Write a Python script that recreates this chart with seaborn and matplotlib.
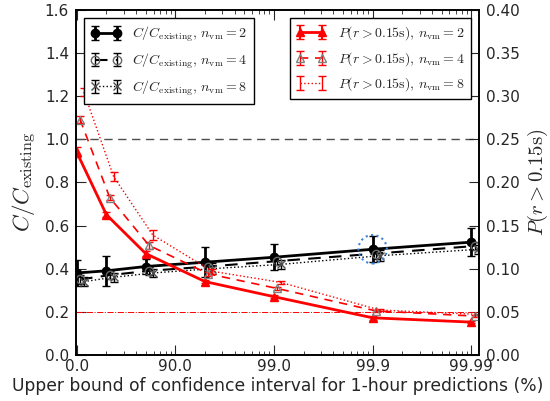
import numpy as np
import matplotlib
matplotlib.use('Agg')
import matplotlib.pyplot as plt
import seaborn as sns

# x 数据：1/(1-p)，对数坐标
x_vals = [1, 2, 5, 20, 100, 1000, 10000]
x_ticks = [1, 10, 100, 1000, 10000]
x_ticklabels = ['0.0', '90.0', '99.0', '99.9', '99.99']

# C/C_existing
cost_n2 = [0.38, 0.39, 0.41, 0.43, 0.453, 0.49, 0.523]
cost_n2_err = [0.06, 0.07, 0.035, 0.07, 0.06, 0.06, 0.065]
cost_n4 = [0.35, 0.37, 0.39, 0.41, 0.435, 0.47, 0.505]
cost_n4_err = [0.02, 0.02, 0.02, 0.025, 0.02, 0.025, 0.02]
cost_n8 = [0.34, 0.36, 0.38, 0.40, 0.42, 0.46, 0.49]
cost_n8_err = [0.02, 0.02, 0.02, 0.025, 0.02, 0.025, 0.02]

# P(r > 0.15s)
prob_n2 = [0.235, 0.1625, 0.1175, 0.085, 0.0675, 0.043, 0.038]
prob_n2_err = [0.006, 0.003, 0.003, 0.002, 0.002, 0.002, 0.001]
prob_n4 = [0.273, 0.1825, 0.127, 0.094, 0.077, 0.051, 0.045]
prob_n4_err = [0.004, 0.003, 0.004, 0.002, 0.002, 0.001, 0.001]
prob_n8 = [0.305, 0.207, 0.139, 0.097, 0.084, 0.052, 0.047]
prob_n8_err = [0.005, 0.005, 0.006, 0.003, 0.002, 0.001, 0.001]

# 高亮点
hl_x = [1000]
hl_y = [0.49]

sns.set_style('ticks')
plt.rcParams['font.family'] = ['DejaVu Sans']
plt.rcParams['mathtext.fontset'] = 'cm'
plt.rcParams['font.size'] = 11
plt.rcParams['xtick.direction'] = 'in'
plt.rcParams['ytick.direction'] = 'in'

x = np.array(x_vals, dtype=float)

fig = plt.figure(figsize=(5.5, 4.01), dpi=100)
ax = fig.add_axes([0.138, 0.115, 0.733, 0.86])
ax2 = ax.twinx()

# 参考线
ax.axhline(1.0, color='0.3', ls='--', lw=1, dashes=(6, 4))
ax2.axhline(0.05, color='r', ls='-.', lw=0.7)

# 成本曲线
h1 = ax.errorbar(x, cost_n2, yerr=cost_n2_err, fmt='o-', color='k', lw=2,
                 ms=6, capsize=3, elinewidth=2,
                 label=r'$C/C_{\mathrm{existing}},\, n_{\mathrm{vm}}=2$')
h2 = ax.errorbar(x * 1.08, cost_n4, yerr=cost_n4_err, fmt='o--', color='k', lw=1.5,
                 mfc='none', mec='0.4', ms=6, capsize=3, elinewidth=1, dashes=(6, 4),
                 label=r'$C/C_{\mathrm{existing}},\, n_{\mathrm{vm}}=4$')
h3 = ax.errorbar(x * 1.18, cost_n8, yerr=cost_n8_err, fmt='x:', color='k', lw=1,
                 mec='0.3', ms=6, capsize=3, elinewidth=1,
                 label=r'$C/C_{\mathrm{existing}},\, n_{\mathrm{vm}}=8$')
ax.scatter(hl_x, hl_y, s=420, facecolors='none', edgecolors='#3c82d8',
           linestyles=':', linewidths=1.5, zorder=5)

# 概率曲线
h4 = ax2.errorbar(x, prob_n2, yerr=prob_n2_err, fmt='^-', color='r', lw=2,
                  ms=6, capsize=3, elinewidth=1.5,
                  label=r'$P(r>0.15\mathrm{s}),\, n_{\mathrm{vm}}=2$')
h5 = ax2.errorbar(x * 1.08, prob_n4, yerr=prob_n4_err, fmt='^--', color='r', lw=1.2,
                  mfc='none', mec='0.5', ms=6, capsize=3, elinewidth=1, dashes=(5, 4),
                  label=r'$P(r>0.15\mathrm{s}),\, n_{\mathrm{vm}}=4$')
h6 = ax2.errorbar(x * 1.18, prob_n8, yerr=prob_n8_err, fmt=':', color='r', lw=1,
                  capsize=3, elinewidth=1,
                  label=r'$P(r>0.15\mathrm{s}),\, n_{\mathrm{vm}}=8$')

ax.set_xscale('log')
ax.set_xlim(0.98, 12000)
ax.set_xticks(x_ticks)
ax.set_xticklabels(x_ticklabels)
ax.set_ylim(0, 1.6)
ax.set_yticks(np.arange(0, 1.61, 0.2))
ax2.set_ylim(0, 0.4)
ax2.set_yticks(np.arange(0, 0.401, 0.05))
ax.yaxis.set_major_formatter(matplotlib.ticker.FormatStrFormatter('%.1f'))
ax2.yaxis.set_major_formatter(matplotlib.ticker.FormatStrFormatter('%.2f'))

ax.tick_params(axis='x', which='both', top=True, direction='in')
ax.tick_params(axis='x', which='major', length=7, labelsize=11, pad=3)
ax.tick_params(axis='x', which='minor', length=3)
ax.tick_params(axis='y', length=7, labelsize=11, direction='in', pad=5)
ax2.tick_params(axis='y', length=7, labelsize=11, direction='in', pad=5)
for a in (ax, ax2):
    for s in a.spines.values():
        s.set_linewidth(1.2)
        s.set_color('k')

ax.set_xlabel('Upper bound of confidence interval for 1-hour predictions (%)',
              fontsize=12.3, labelpad=2)
ax.set_ylabel(r'$C/C_{\mathrm{existing}}$', fontsize=16.5, labelpad=4)
ax2.set_ylabel(r'$P(r>0.15\mathrm{s})$', fontsize=15, labelpad=4)

leg_kw = dict(numpoints=2, fancybox=False, framealpha=1, edgecolor='k',
              fontsize=10, borderaxespad=0.6, handlelength=2.2,
              labelspacing=0.55, borderpad=0.45, handletextpad=0.8)
leg1 = ax2.legend(handles=[h1, h2, h3], loc='upper left', **leg_kw)
leg1.get_frame().set_linewidth(1)
ax2.add_artist(leg1)
leg2 = ax2.legend(handles=[h4, h5, h6], loc='upper right', **leg_kw)
leg2.get_frame().set_linewidth(1)

fig.savefig('out.png', dpi=100)
